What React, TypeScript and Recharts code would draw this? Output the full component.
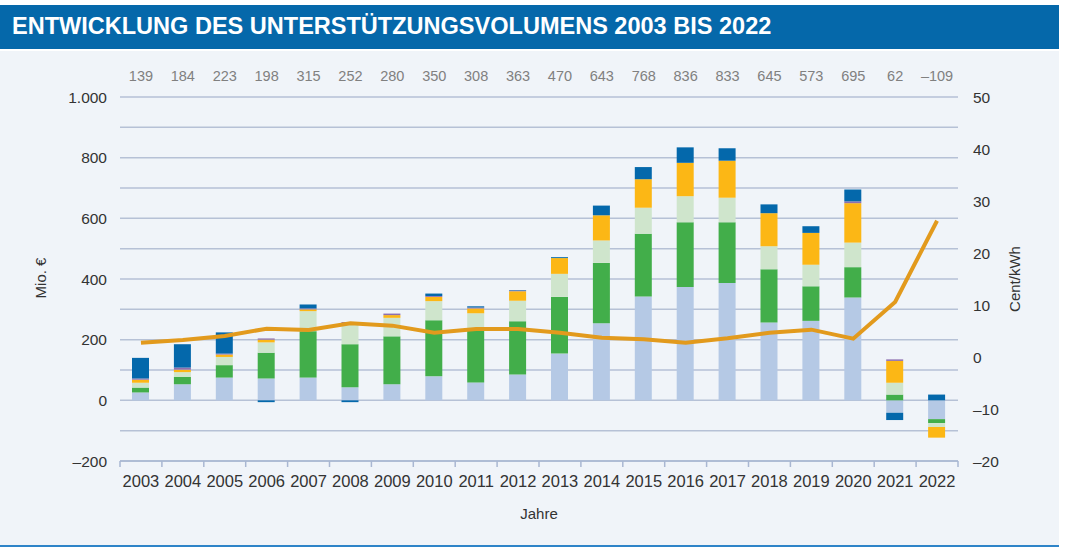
import React from 'react';
import { ComposedChart, Bar, Line, XAxis, YAxis, CartesianGrid } from 'recharts';

const years = ['2003', '2004', '2005', '2006', '2007', '2008', '2009', '2010', '2011', '2012', '2013', '2014', '2015', '2016', '2017', '2018', '2019', '2020', '2021', '2022'];
const totals = [139, 184, 223, 198, 315, 252, 280, 350, 308, 363, 470, 643, 768, 836, 833, 645, 573, 695, 62, -109];
const lightBlue = [26, 53, 75, 72, 75, 43, 53, 79, 59, 85, 154, 254, 342, 374, 387, 257, 262, 339, -41, -62];
const green = [16, 24, 41, 85, 153, 142, 158, 185, 170, 176, 187, 199, 207, 213, 200, 175, 114, 100, 19, -13];
const lightGreen = [16, 16, 27, 34, 66, 68, 61, 63, 58, 67, 76, 74, 86, 86, 81, 76, 71, 81, 39, -13];
const yellow = [10, 8, 8, 9, 6, 0, 9, 14, 16, 32, 52, 83, 94, 110, 122, 109, 105, 130, 72, -35];
const purple = [4, 7, 3, 4, 3, 5, 5, 3, 3, 2, 0, 0, 0, 0, 0, 0, 0, 6, 5, 0];
const darkBlue = [68, 77, 70, -6, 13, -6, 0, 8, 4, 2, 3, 32, 40, 51, 41, 29, 22, 39, -24, 19];
const centPerKwh = [2.75, 3.27, 4.04, 5.45, 5.19, 6.48, 6.03, 4.68, 5.38, 5.38, 4.68, 3.72, 3.4, 2.76, 3.59, 4.68, 5.26, 3.53, 10.6, 26.2];

const leftTicks = [-200, -100, 0, 100, 200, 300, 400, 500, 600, 700, 800, 900, 1000];
const rightTicks = [-20, -10, 0, 10, 20, 30, 40, 50];

const data = years.map((year, i) => ({
  year,
  total: totals[i],
  lightBlue: lightBlue[i],
  green: green[i],
  lightGreen: lightGreen[i],
  yellow: yellow[i],
  purple: purple[i],
  darkBlue: darkBlue[i],
  cent: centPerKwh[i],
}));

const FONT = '"Liberation Sans", Arial, sans-serif';

const fmt = (v: number) => {
  const a = Math.abs(v);
  const s = a >= 1000 ? `${Math.floor(a / 1000)}.${String(a % 1000).padStart(3, '0')}` : String(a);
  return (v < 0 ? '\u2013' : '') + s;
};

const YearTick = (props: any) => {
  const { x, y, payload, index, visibleTicksCount } = props;
  const half = payload && payload.offset ? payload.offset : 20.95;
  const axisY = y - 14;
  return (
    <g>
      <line x1={x - half} x2={x - half} y1={axisY} y2={axisY + 6} stroke="#A9B7D2" strokeWidth={1.5} />
      {index === (visibleTicksCount ?? 20) - 1 && (
        <line x1={x + half} x2={x + half} y1={axisY} y2={axisY + 6} stroke="#A9B7D2" strokeWidth={1.5} />
      )}
      <text x={x} y={y} dy="0.71em" textAnchor="middle" fill="#333" fontSize={16.5} fontFamily={FONT}>
        {payload.value}
      </text>
    </g>
  );
};

export default function App() {
  return (
    <div style={{ position: 'absolute', left: 0, top: 0, width: 1066, height: 547, background: '#fff', overflow: 'hidden' }}>
      <div style={{ position: 'absolute', left: 0, top: 5, width: 1059, height: 44, background: '#0568AA' }} />
      <div
        style={{
          position: 'absolute',
          left: 12,
          top: 11,
          color: '#fff',
          fontFamily: FONT,
          fontWeight: 700,
          fontSize: 24,
          lineHeight: '30px',
          whiteSpace: 'nowrap',
          transformOrigin: 'left center',
          transform: 'scaleX(0.98)',
        }}
      >
        ENTWICKLUNG DES UNTERSTÜTZUNGSVOLUMENS 2003 BIS 2022
      </div>
      <div style={{ position: 'absolute', left: 0, top: 51, width: 1059, height: 494, background: '#F0F4F9' }} />
      <div style={{ position: 'absolute', left: 0, top: 545, width: 1059, height: 2, background: '#2E84C8' }} />
      <div
        style={{
          position: 'absolute',
          left: 40,
          top: 278,
          transform: 'translate(-50%, -50%) rotate(-90deg)',
          fontFamily: FONT,
          fontSize: 15,
          color: '#333',
          whiteSpace: 'nowrap',
        }}
      >
        Mio. €
      </div>
      <div
        style={{
          position: 'absolute',
          left: 1014,
          top: 279,
          transform: 'translate(-50%, -50%) rotate(-90deg)',
          fontFamily: FONT,
          fontSize: 15,
          color: '#333',
          whiteSpace: 'nowrap',
        }}
      >
        Cent/kWh
      </div>
      <div
        style={{
          position: 'absolute',
          left: 539,
          top: 513,
          transform: 'translate(-50%, -50%)',
          fontFamily: FONT,
          fontSize: 15,
          color: '#333',
          whiteSpace: 'nowrap',
        }}
      >
        Jahre
      </div>
      <div style={{ position: 'absolute', left: 0, top: 0 }}>
        <ComposedChart
          width={1066}
          height={547}
          data={data}
          stackOffset="sign"
          margin={{ top: 67, right: 0, bottom: 56, left: 0 }}
        >
          <CartesianGrid
            xAxisId="bottom"
            yAxisId="left"
            vertical={false}
            stroke="#B6C1D6"
            strokeWidth={1.5}
          />
          <XAxis
            xAxisId="top"
            orientation="top"
            dataKey="year"
            height={30}
            axisLine={false}
            tickLine={false}
            interval={0}
            tickMargin={10}
            tickFormatter={(_v: any, i: number) => fmt(totals[i])}
            tick={{ fill: '#808080', fontSize: 14.5, fontFamily: FONT }}
          />
          <XAxis
            xAxisId="bottom"
            dataKey="year"
            height={30}
            interval={0}
            tickSize={6}
            tickMargin={8}
            tickLine={false}
            axisLine={{ stroke: '#A9B7D2', strokeWidth: 1.5 }}
            tick={<YearTick />}
          />
          <YAxis
            yAxisId="left"
            domain={[-200, 1000]}
            ticks={leftTicks}
            interval={0}
            width={120}
            axisLine={false}
            tickLine={false}
            tickMargin={7}
            tickFormatter={(v: number) => (v % 200 === 0 ? fmt(v) : '')}
            tick={{ fill: '#333', fontSize: 15.5, fontFamily: FONT }}
          />
          <YAxis
            yAxisId="right"
            orientation="right"
            domain={[-20, 50]}
            ticks={rightTicks}
            interval={0}
            width={108}
            axisLine={false}
            tickLine={false}
            tickMargin={9}
            tickFormatter={(v: number) => fmt(v)}
            tick={{ fill: '#333', fontSize: 15.5, fontFamily: FONT }}
          />
          <Bar xAxisId="bottom" yAxisId="left" dataKey="lightBlue" stackId="a" fill="#B5C9E5" barSize={17} isAnimationActive={false} />
          <Bar xAxisId="bottom" yAxisId="left" dataKey="green" stackId="a" fill="#42AE4A" barSize={17} isAnimationActive={false} />
          <Bar xAxisId="bottom" yAxisId="left" dataKey="lightGreen" stackId="a" fill="#CFE5CC" barSize={17} isAnimationActive={false} />
          <Bar xAxisId="bottom" yAxisId="left" dataKey="yellow" stackId="a" fill="#FCB715" barSize={17} isAnimationActive={false} />
          <Bar xAxisId="bottom" yAxisId="left" dataKey="purple" stackId="a" fill="#8E6FAF" barSize={17} isAnimationActive={false} />
          <Bar xAxisId="bottom" yAxisId="left" dataKey="darkBlue" stackId="a" fill="#0468AB" barSize={17} isAnimationActive={false} />
          <Line
            xAxisId="bottom"
            yAxisId="right"
            dataKey="cent"
            type="linear"
            stroke="#E29A1D"
            strokeWidth={4}
            dot={false}
            activeDot={false}
            isAnimationActive={false}
          />
        </ComposedChart>
      </div>
    </div>
  );
}
